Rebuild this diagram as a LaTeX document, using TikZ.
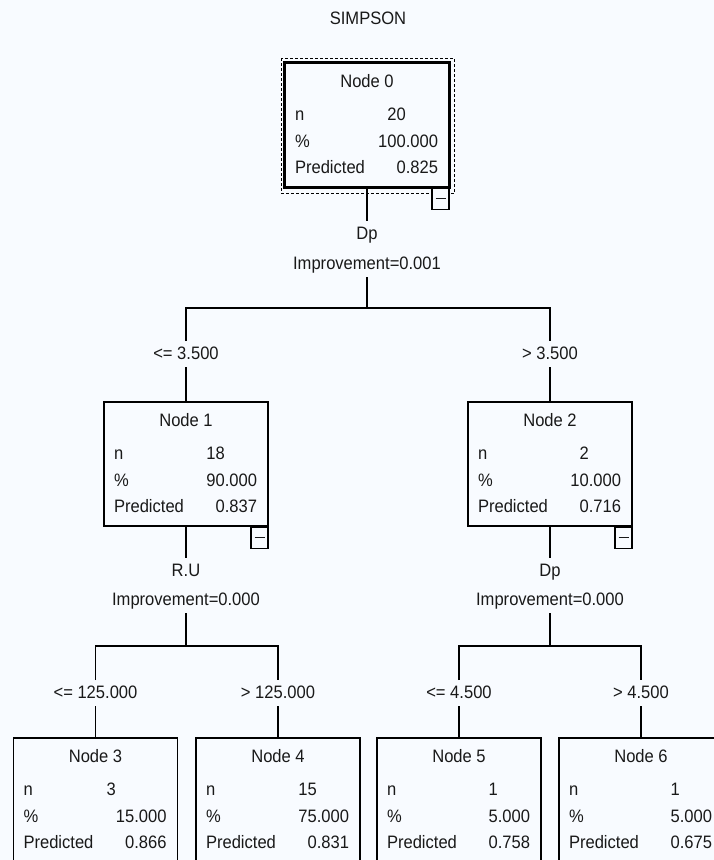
\documentclass[tikz,border=0pt]{standalone}
\usepackage{fontspec}
\setmainfont[FakeStretch=0.92]{Liberation Sans}
\usetikzlibrary{positioning}
\definecolor{bgcol}{RGB}{248,251,255}
\definecolor{inkcol}{RGB}{25,25,25}

\begin{document}
\begin{tikzpicture}[x=1pt, y=-1pt, line width=1.1pt,
  every node/.style={font=\fontsize{18}{20}\selectfont, text=inkcol},
  treebox/.style={draw, minimum width=164pt, minimum height=124pt, inner sep=0pt},
  minusbox/.style={draw, fill=bgcol, minimum width=17pt, minimum height=21pt,
    inner sep=0pt, anchor=north east},
  celltext/.style={inner sep=0pt, text height=13pt, text depth=0pt},
  lbl/.style={inner xsep=2pt, inner ysep=0pt, text height=14pt, text depth=4pt,
    outer ysep=4pt}]

  % Background and page size
  \path[fill=bgcol, use as bounding box] (0,0) rectangle (714,860);

  \node (title) at (368,18) {SIMPSON};

  % Tree nodes with their statistics
  \foreach \i/\x/\y/\nv/\pv/\rv in {
      0/367/125/{20\phantom{.000}}/100.000/0.825,
      1/186/464/{18\phantom{.000}}/90.000/0.837,
      2/550/464/{2\phantom{.000}}/10.000/0.716,
      3/95.5/800/{3\phantom{00.000}}/15.000/0.866,
      4/278/800/{15\phantom{.000}}/75.000/0.831,
      5/459/800/{1\phantom{.000}}/5.000/0.758,
      6/641/800/{1\phantom{.000}}/5.000/0.675} {
    \node[treebox] (n\i) at (\x,\y) {};
    \node[celltext] at ([yshift=-19pt]n\i.north) {Node \i};
    \node[celltext, anchor=west] at ([xshift=10pt,yshift=-52pt]n\i.north west) {n};
    \node[celltext, anchor=west] at ([xshift=10pt,yshift=-79pt]n\i.north west) {\%};
    \node[celltext, anchor=west] at ([xshift=10pt,yshift=-105pt]n\i.north west) {Predicted};
    \node[celltext, anchor=east] at ([xshift=-11pt,yshift=-52pt]n\i.north east) {\nv};
    \node[celltext, anchor=east] at ([xshift=-11pt,yshift=-79pt]n\i.north east) {\pv};
    \node[celltext, anchor=east] at ([xshift=-11pt,yshift=-105pt]n\i.north east) {\rv};
  }

  % Selected root node
  \draw[line width=3pt] (n0.north west) rectangle (n0.south east);
  \draw[line width=0.8pt, dash pattern=on 3pt off 2pt]
    ([xshift=-3pt,yshift=4pt]n0.north west) rectangle ([xshift=5pt,yshift=-6pt]n0.south east);

  % Collapse buttons
  \foreach \i in {0,1,2}
    \node[minusbox] (m\i) at (n\i.south east) {\rule{10pt}{1.2pt}};

  % First split
  \node[lbl] (var0) at (367,234) {Dp};
  \node[lbl] (imp0) at (367,264) {Improvement=0.001};
  \coordinate (bar0) at (367,308);
  \node[lbl] (sp1) at (186,354) {<= 3.500};
  \node[lbl] (sp2) at (550,354) {> 3.500};
  \draw (n0) -- (var0);
  \draw (imp0) -- (bar0);
  \draw (sp1) |- (bar0) -| (sp2);
  \draw (sp1) -- (n1);
  \draw (sp2) -- (n2);

  % Split of node 1
  \node[lbl] (var1) at (186,571) {R.U};
  \node[lbl] (imp1) at (186,600) {Improvement=0.000};
  \coordinate (bar1) at (186,646);
  \node[lbl] (sp3) at (95.5,693) {<= 125.000};
  \node[lbl] (sp4) at (278,693) {> 125.000};
  \draw (n1) -- (var1);
  \draw (imp1) -- (bar1);
  \draw (sp3) |- (bar1) -| (sp4);
  \draw (sp3) -- (n3);
  \draw (sp4) -- (n4);

  % Split of node 2
  \node[lbl] (var2) at (550,571) {Dp};
  \node[lbl] (imp2) at (550,600) {Improvement=0.000};
  \coordinate (bar2) at (550,646);
  \node[lbl] (sp5) at (459,693) {<= 4.500};
  \node[lbl] (sp6) at (641,693) {> 4.500};
  \draw (n2) -- (var2);
  \draw (imp2) -- (bar2);
  \draw (sp5) |- (bar2) -| (sp6);
  \draw (sp5) -- (n5);
  \draw (sp6) -- (n6);

\end{tikzpicture}
\end{document}
